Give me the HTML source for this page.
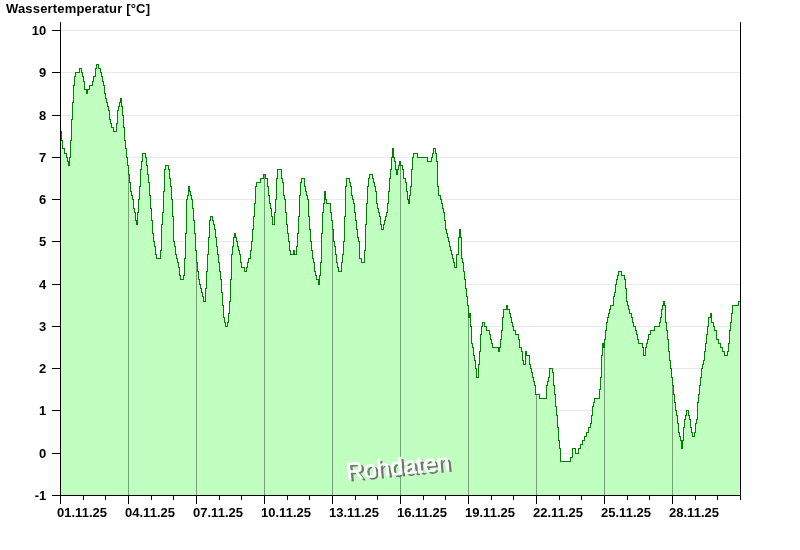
<!DOCTYPE html>
<html lang="de"><head><meta charset="utf-8"><title>Wassertemperatur</title>
<style>html,body{margin:0;padding:0;background:#fff}body{width:800px;height:550px;overflow:hidden;position:relative}</style></head>
<body>
<svg width="800" height="550" viewBox="0 0 800 550" style="display:block">
<rect width="800" height="550" fill="#fff"/>
<g stroke="#e9e9e9" stroke-width="1" shape-rendering="crispEdges">
<line x1="61" x2="740" y1="30.5" y2="30.5"/>
<line x1="61" x2="740" y1="72.5" y2="72.5"/>
<line x1="61" x2="740" y1="115.5" y2="115.5"/>
<line x1="61" x2="740" y1="157.5" y2="157.5"/>
<line x1="61" x2="740" y1="199.5" y2="199.5"/>
<line x1="61" x2="740" y1="241.5" y2="241.5"/>
<line x1="61" x2="740" y1="284.5" y2="284.5"/>
<line x1="61" x2="740" y1="326.5" y2="326.5"/>
<line x1="61" x2="740" y1="368.5" y2="368.5"/>
<line x1="61" x2="740" y1="410.5" y2="410.5"/>
<line x1="61" x2="740" y1="453.5" y2="453.5"/>
</g>
<defs><clipPath id="fc"><path d="M60,495 V131 H61 V140 H62 V148 H63 H64 V153 H65 H66 V157 H67 V161 H68 V165 H69 V157 H70 V140 H71 V119 H72 V102 H73 V85 H74 V76 H75 V72 H76 H77 H78 H79 V68 H80 H81 V72 H82 V76 H83 V81 H84 V89 H85 H86 V93 H87 V89 H88 H89 V85 H90 H91 H92 V81 H93 V76 H94 H95 V68 H96 V64 H97 H98 V68 H99 H100 V72 H101 V76 H102 V81 H103 V85 H104 V93 H105 V98 H106 V102 H107 V106 H108 V110 H109 V119 H110 V123 H111 V127 H112 H113 V131 H114 H115 H116 V123 H117 V110 H118 V106 H119 V102 H120 V98 H121 V106 H122 V115 H123 V127 H124 V140 H125 V148 H126 V157 H127 V165 H128 V174 H129 V182 H130 V191 H131 V195 H132 V199 H133 V208 H134 V212 H135 V220 H136 V224 H137 V212 H138 V199 H139 V186 H140 V169 H141 V161 H142 V153 H143 H144 H145 V157 H146 V165 H147 V174 H148 V182 H149 V195 H150 V208 H151 V220 H152 V233 H153 V241 H154 V246 H155 V254 H156 V258 H157 H158 H159 H160 V250 H161 V224 H162 V212 H163 V191 H164 V169 H165 V165 H166 H167 H168 V169 H169 V178 H170 V186 H171 V199 H172 V216 H173 V241 H174 V246 H175 V254 H176 V258 H177 V262 H178 V267 H179 V275 H180 V279 H181 H182 H183 V275 H184 V258 H185 V233 H186 V199 H187 V195 H188 V186 H189 V191 H190 V195 H191 V199 H192 V208 H193 V220 H194 V233 H195 V250 H196 V262 H197 V271 H198 V279 H199 V284 H200 V288 H201 V292 H202 V296 H203 V301 H204 H205 V288 H206 V271 H207 V254 H208 V237 H209 V220 H210 V216 H211 H212 V220 H213 V224 H214 V229 H215 V237 H216 V246 H217 V254 H218 V262 H219 V271 H220 V279 H221 V292 H222 V305 H223 V317 H224 V322 H225 V326 H226 H227 V322 H228 V313 H229 V301 H230 V279 H231 V254 H232 V246 H233 V237 H234 V233 H235 V237 H236 V241 H237 V246 H238 V250 H239 V254 H240 V262 H241 V267 H242 H243 H244 V271 H245 H246 V267 H247 V262 H248 V258 H249 H250 V250 H251 V241 H252 V229 H253 V216 H254 V203 H255 V186 H256 V182 H257 H258 H259 H260 V178 H261 H262 H263 V174 H264 H265 V178 H266 H267 V186 H268 V195 H269 V203 H270 V208 H271 V216 H272 V224 H273 H274 V212 H275 V199 H276 V178 H277 V169 H278 H279 H280 H281 V178 H282 V182 H283 V195 H284 V199 H285 V212 H286 V224 H287 V233 H288 V241 H289 V250 H290 V254 H291 H292 H293 V250 H294 V254 H295 H296 V246 H297 V233 H298 V216 H299 V195 H300 V182 H301 V178 H302 H303 H304 V186 H305 V191 H306 V195 H307 V199 H308 V216 H309 V229 H310 V241 H311 V250 H312 V258 H313 V262 H314 V271 H315 V275 H316 V279 H317 H318 V284 H319 V275 H320 V262 H321 V233 H322 V212 H323 V203 H324 V191 H325 V199 H326 V203 H327 H328 H329 H330 V212 H331 V220 H332 V229 H333 V241 H334 V246 H335 V254 H336 V262 H337 V267 H338 V271 H339 H340 H341 V262 H342 V254 H343 V241 H344 V216 H345 V186 H346 V178 H347 H348 H349 V182 H350 V186 H351 V195 H352 V199 H353 V203 H354 V212 H355 V220 H356 V229 H357 V237 H358 V241 H359 V258 H360 H361 V262 H362 H363 H364 V250 H365 V224 H366 V203 H367 V186 H368 V178 H369 V174 H370 H371 H372 V178 H373 V182 H374 V186 H375 V191 H376 V203 H377 V208 H378 V212 H379 V216 H380 V224 H381 V229 H382 H383 V224 H384 V220 H385 V216 H386 V212 H387 V203 H388 V191 H389 V178 H390 V169 H391 V157 H392 V148 H393 V157 H394 V161 H395 V169 H396 V174 H397 V169 H398 V165 H399 V161 H400 V165 H401 H402 V169 H403 V178 H404 H405 V182 H406 V191 H407 V199 H408 V203 H409 V195 H410 V186 H411 V169 H412 V157 H413 V153 H414 H415 H416 H417 V157 H418 H419 H420 H421 H422 H423 H424 H425 H426 H427 V161 H428 H429 H430 H431 V157 H432 V153 H433 V148 H434 H435 V153 H436 V161 H437 V186 H438 V195 H439 H440 V199 H441 V203 H442 V208 H443 V212 H444 V220 H445 V229 H446 V233 H447 V237 H448 V241 H449 V246 H450 V250 H451 V254 H452 V258 H453 V262 H454 V267 H455 H456 V254 H457 H458 V237 H459 V229 H460 V237 H461 V258 H462 V262 H463 V271 H464 V279 H465 V288 H466 V296 H467 V305 H468 V317 H469 V313 H470 V326 H471 V343 H472 V347 H473 V355 H474 V360 H475 V368 H476 V377 H477 H478 V364 H479 V351 H480 V334 H481 V326 H482 V322 H483 H484 V326 H485 H486 V330 H487 H488 H489 V334 H490 V339 H491 V343 H492 V347 H493 H494 H495 H496 H497 H498 V351 H499 V347 H500 V339 H501 V330 H502 V317 H503 V309 H504 H505 H506 V305 H507 V309 H508 H509 V313 H510 V317 H511 V322 H512 V326 H513 V330 H514 H515 V334 H516 H517 H518 V339 H519 V347 H520 H521 V351 H522 V360 H523 V364 H524 H525 V351 H526 V355 H527 H528 H529 V364 H530 V368 H531 V372 H532 V377 H533 V381 H534 V385 H535 V394 H536 H537 H538 H539 V398 H540 H541 H542 H543 H544 H545 H546 V385 H547 V381 H548 V377 H549 V368 H550 H551 H552 V372 H553 V385 H554 V394 H555 V406 H556 V415 H557 V427 H558 V440 H559 V448 H560 V461 H561 H562 H563 H564 H565 H566 H567 H568 H569 H570 V457 H571 H572 V448 H573 H574 H575 V453 H576 H577 H578 V448 H579 H580 V444 H581 H582 V440 H583 H584 V436 H585 H586 V432 H587 H588 V427 H589 H590 V423 H591 V415 H592 V406 H593 V402 H594 V398 H595 H596 H597 H598 H599 V389 H600 V377 H601 V355 H602 V343 H603 V347 H604 V339 H605 V330 H606 V322 H607 V317 H608 V313 H609 V309 H610 V305 H611 H612 H613 V296 H614 V292 H615 V284 H616 V279 H617 V275 H618 V271 H619 H620 H621 V275 H622 H623 H624 V279 H625 V288 H626 V301 H627 V305 H628 V309 H629 V313 H630 H631 V317 H632 V322 H633 V326 H634 H635 V330 H636 V334 H637 V339 H638 V343 H639 H640 H641 H642 V347 H643 V355 H644 H645 V347 H646 V343 H647 V339 H648 V334 H649 H650 V330 H651 H652 H653 H654 V326 H655 H656 H657 H658 H659 V322 H660 V317 H661 V309 H662 V305 H663 V301 H664 V305 H665 V322 H666 V330 H667 V339 H668 V351 H669 V360 H670 V368 H671 V377 H672 V385 H673 V394 H674 V402 H675 V410 H676 V415 H677 V423 H678 V432 H679 V436 H680 V440 H681 V448 H682 V440 H683 V427 H684 V419 H685 V415 H686 V410 H687 H688 V415 H689 V419 H690 V427 H691 V432 H692 V436 H693 H694 V432 H695 V423 H696 V419 H697 V402 H698 V394 H699 V385 H700 V377 H701 V368 H702 V364 H703 V360 H704 V351 H705 V343 H706 V334 H707 V326 H708 V317 H709 H710 V313 H711 V322 H712 H713 V326 H714 V330 H715 H716 V339 H717 H718 V343 H719 H720 V347 H721 H722 V351 H723 H724 V355 H725 H726 H727 V351 H728 V343 H729 V330 H730 V322 H731 V313 H732 V305 H733 H734 H735 H736 H737 H738 V301 H739 H740 H740 V495 Z"/></clipPath></defs>
<path d="M60,495 V131 H61 V140 H62 V148 H63 H64 V153 H65 H66 V157 H67 V161 H68 V165 H69 V157 H70 V140 H71 V119 H72 V102 H73 V85 H74 V76 H75 V72 H76 H77 H78 H79 V68 H80 H81 V72 H82 V76 H83 V81 H84 V89 H85 H86 V93 H87 V89 H88 H89 V85 H90 H91 H92 V81 H93 V76 H94 H95 V68 H96 V64 H97 H98 V68 H99 H100 V72 H101 V76 H102 V81 H103 V85 H104 V93 H105 V98 H106 V102 H107 V106 H108 V110 H109 V119 H110 V123 H111 V127 H112 H113 V131 H114 H115 H116 V123 H117 V110 H118 V106 H119 V102 H120 V98 H121 V106 H122 V115 H123 V127 H124 V140 H125 V148 H126 V157 H127 V165 H128 V174 H129 V182 H130 V191 H131 V195 H132 V199 H133 V208 H134 V212 H135 V220 H136 V224 H137 V212 H138 V199 H139 V186 H140 V169 H141 V161 H142 V153 H143 H144 H145 V157 H146 V165 H147 V174 H148 V182 H149 V195 H150 V208 H151 V220 H152 V233 H153 V241 H154 V246 H155 V254 H156 V258 H157 H158 H159 H160 V250 H161 V224 H162 V212 H163 V191 H164 V169 H165 V165 H166 H167 H168 V169 H169 V178 H170 V186 H171 V199 H172 V216 H173 V241 H174 V246 H175 V254 H176 V258 H177 V262 H178 V267 H179 V275 H180 V279 H181 H182 H183 V275 H184 V258 H185 V233 H186 V199 H187 V195 H188 V186 H189 V191 H190 V195 H191 V199 H192 V208 H193 V220 H194 V233 H195 V250 H196 V262 H197 V271 H198 V279 H199 V284 H200 V288 H201 V292 H202 V296 H203 V301 H204 H205 V288 H206 V271 H207 V254 H208 V237 H209 V220 H210 V216 H211 H212 V220 H213 V224 H214 V229 H215 V237 H216 V246 H217 V254 H218 V262 H219 V271 H220 V279 H221 V292 H222 V305 H223 V317 H224 V322 H225 V326 H226 H227 V322 H228 V313 H229 V301 H230 V279 H231 V254 H232 V246 H233 V237 H234 V233 H235 V237 H236 V241 H237 V246 H238 V250 H239 V254 H240 V262 H241 V267 H242 H243 H244 V271 H245 H246 V267 H247 V262 H248 V258 H249 H250 V250 H251 V241 H252 V229 H253 V216 H254 V203 H255 V186 H256 V182 H257 H258 H259 H260 V178 H261 H262 H263 V174 H264 H265 V178 H266 H267 V186 H268 V195 H269 V203 H270 V208 H271 V216 H272 V224 H273 H274 V212 H275 V199 H276 V178 H277 V169 H278 H279 H280 H281 V178 H282 V182 H283 V195 H284 V199 H285 V212 H286 V224 H287 V233 H288 V241 H289 V250 H290 V254 H291 H292 H293 V250 H294 V254 H295 H296 V246 H297 V233 H298 V216 H299 V195 H300 V182 H301 V178 H302 H303 H304 V186 H305 V191 H306 V195 H307 V199 H308 V216 H309 V229 H310 V241 H311 V250 H312 V258 H313 V262 H314 V271 H315 V275 H316 V279 H317 H318 V284 H319 V275 H320 V262 H321 V233 H322 V212 H323 V203 H324 V191 H325 V199 H326 V203 H327 H328 H329 H330 V212 H331 V220 H332 V229 H333 V241 H334 V246 H335 V254 H336 V262 H337 V267 H338 V271 H339 H340 H341 V262 H342 V254 H343 V241 H344 V216 H345 V186 H346 V178 H347 H348 H349 V182 H350 V186 H351 V195 H352 V199 H353 V203 H354 V212 H355 V220 H356 V229 H357 V237 H358 V241 H359 V258 H360 H361 V262 H362 H363 H364 V250 H365 V224 H366 V203 H367 V186 H368 V178 H369 V174 H370 H371 H372 V178 H373 V182 H374 V186 H375 V191 H376 V203 H377 V208 H378 V212 H379 V216 H380 V224 H381 V229 H382 H383 V224 H384 V220 H385 V216 H386 V212 H387 V203 H388 V191 H389 V178 H390 V169 H391 V157 H392 V148 H393 V157 H394 V161 H395 V169 H396 V174 H397 V169 H398 V165 H399 V161 H400 V165 H401 H402 V169 H403 V178 H404 H405 V182 H406 V191 H407 V199 H408 V203 H409 V195 H410 V186 H411 V169 H412 V157 H413 V153 H414 H415 H416 H417 V157 H418 H419 H420 H421 H422 H423 H424 H425 H426 H427 V161 H428 H429 H430 H431 V157 H432 V153 H433 V148 H434 H435 V153 H436 V161 H437 V186 H438 V195 H439 H440 V199 H441 V203 H442 V208 H443 V212 H444 V220 H445 V229 H446 V233 H447 V237 H448 V241 H449 V246 H450 V250 H451 V254 H452 V258 H453 V262 H454 V267 H455 H456 V254 H457 H458 V237 H459 V229 H460 V237 H461 V258 H462 V262 H463 V271 H464 V279 H465 V288 H466 V296 H467 V305 H468 V317 H469 V313 H470 V326 H471 V343 H472 V347 H473 V355 H474 V360 H475 V368 H476 V377 H477 H478 V364 H479 V351 H480 V334 H481 V326 H482 V322 H483 H484 V326 H485 H486 V330 H487 H488 H489 V334 H490 V339 H491 V343 H492 V347 H493 H494 H495 H496 H497 H498 V351 H499 V347 H500 V339 H501 V330 H502 V317 H503 V309 H504 H505 H506 V305 H507 V309 H508 H509 V313 H510 V317 H511 V322 H512 V326 H513 V330 H514 H515 V334 H516 H517 H518 V339 H519 V347 H520 H521 V351 H522 V360 H523 V364 H524 H525 V351 H526 V355 H527 H528 H529 V364 H530 V368 H531 V372 H532 V377 H533 V381 H534 V385 H535 V394 H536 H537 H538 H539 V398 H540 H541 H542 H543 H544 H545 H546 V385 H547 V381 H548 V377 H549 V368 H550 H551 H552 V372 H553 V385 H554 V394 H555 V406 H556 V415 H557 V427 H558 V440 H559 V448 H560 V461 H561 H562 H563 H564 H565 H566 H567 H568 H569 H570 V457 H571 H572 V448 H573 H574 H575 V453 H576 H577 H578 V448 H579 H580 V444 H581 H582 V440 H583 H584 V436 H585 H586 V432 H587 H588 V427 H589 H590 V423 H591 V415 H592 V406 H593 V402 H594 V398 H595 H596 H597 H598 H599 V389 H600 V377 H601 V355 H602 V343 H603 V347 H604 V339 H605 V330 H606 V322 H607 V317 H608 V313 H609 V309 H610 V305 H611 H612 H613 V296 H614 V292 H615 V284 H616 V279 H617 V275 H618 V271 H619 H620 H621 V275 H622 H623 H624 V279 H625 V288 H626 V301 H627 V305 H628 V309 H629 V313 H630 H631 V317 H632 V322 H633 V326 H634 H635 V330 H636 V334 H637 V339 H638 V343 H639 H640 H641 H642 V347 H643 V355 H644 H645 V347 H646 V343 H647 V339 H648 V334 H649 H650 V330 H651 H652 H653 H654 V326 H655 H656 H657 H658 H659 V322 H660 V317 H661 V309 H662 V305 H663 V301 H664 V305 H665 V322 H666 V330 H667 V339 H668 V351 H669 V360 H670 V368 H671 V377 H672 V385 H673 V394 H674 V402 H675 V410 H676 V415 H677 V423 H678 V432 H679 V436 H680 V440 H681 V448 H682 V440 H683 V427 H684 V419 H685 V415 H686 V410 H687 H688 V415 H689 V419 H690 V427 H691 V432 H692 V436 H693 H694 V432 H695 V423 H696 V419 H697 V402 H698 V394 H699 V385 H700 V377 H701 V368 H702 V364 H703 V360 H704 V351 H705 V343 H706 V334 H707 V326 H708 V317 H709 H710 V313 H711 V322 H712 H713 V326 H714 V330 H715 H716 V339 H717 H718 V343 H719 H720 V347 H721 H722 V351 H723 H724 V355 H725 H726 H727 V351 H728 V343 H729 V330 H730 V322 H731 V313 H732 V305 H733 H734 H735 H736 H737 H738 V301 H739 H740 H740 V495 Z" fill="#c0ffc0" shape-rendering="crispEdges"/>
<g stroke="#789f78" stroke-width="1" shape-rendering="crispEdges" clip-path="url(#fc)">
<line x1="128.5" x2="128.5" y1="22" y2="495"/>
<line x1="196.5" x2="196.5" y1="22" y2="495"/>
<line x1="264.5" x2="264.5" y1="22" y2="495"/>
<line x1="332.5" x2="332.5" y1="22" y2="495"/>
<line x1="400.5" x2="400.5" y1="22" y2="495"/>
<line x1="468.5" x2="468.5" y1="22" y2="495"/>
<line x1="536.5" x2="536.5" y1="22" y2="495"/>
<line x1="604.5" x2="604.5" y1="22" y2="495"/>
<line x1="672.5" x2="672.5" y1="22" y2="495"/>
</g>
<path d="M60.5,131.5 H61.5 V140.5 H62.5 V148.5 H63.5 H64.5 V153.5 H65.5 H66.5 V157.5 H67.5 V161.5 H68.5 V165.5 H69.5 V157.5 H70.5 V140.5 H71.5 V119.5 H72.5 V102.5 H73.5 V85.5 H74.5 V76.5 H75.5 V72.5 H76.5 H77.5 H78.5 H79.5 V68.5 H80.5 H81.5 V72.5 H82.5 V76.5 H83.5 V81.5 H84.5 V89.5 H85.5 H86.5 V93.5 H87.5 V89.5 H88.5 H89.5 V85.5 H90.5 H91.5 H92.5 V81.5 H93.5 V76.5 H94.5 H95.5 V68.5 H96.5 V64.5 H97.5 H98.5 V68.5 H99.5 H100.5 V72.5 H101.5 V76.5 H102.5 V81.5 H103.5 V85.5 H104.5 V93.5 H105.5 V98.5 H106.5 V102.5 H107.5 V106.5 H108.5 V110.5 H109.5 V119.5 H110.5 V123.5 H111.5 V127.5 H112.5 H113.5 V131.5 H114.5 H115.5 H116.5 V123.5 H117.5 V110.5 H118.5 V106.5 H119.5 V102.5 H120.5 V98.5 H121.5 V106.5 H122.5 V115.5 H123.5 V127.5 H124.5 V140.5 H125.5 V148.5 H126.5 V157.5 H127.5 V165.5 H128.5 V174.5 H129.5 V182.5 H130.5 V191.5 H131.5 V195.5 H132.5 V199.5 H133.5 V208.5 H134.5 V212.5 H135.5 V220.5 H136.5 V224.5 H137.5 V212.5 H138.5 V199.5 H139.5 V186.5 H140.5 V169.5 H141.5 V161.5 H142.5 V153.5 H143.5 H144.5 H145.5 V157.5 H146.5 V165.5 H147.5 V174.5 H148.5 V182.5 H149.5 V195.5 H150.5 V208.5 H151.5 V220.5 H152.5 V233.5 H153.5 V241.5 H154.5 V246.5 H155.5 V254.5 H156.5 V258.5 H157.5 H158.5 H159.5 H160.5 V250.5 H161.5 V224.5 H162.5 V212.5 H163.5 V191.5 H164.5 V169.5 H165.5 V165.5 H166.5 H167.5 H168.5 V169.5 H169.5 V178.5 H170.5 V186.5 H171.5 V199.5 H172.5 V216.5 H173.5 V241.5 H174.5 V246.5 H175.5 V254.5 H176.5 V258.5 H177.5 V262.5 H178.5 V267.5 H179.5 V275.5 H180.5 V279.5 H181.5 H182.5 H183.5 V275.5 H184.5 V258.5 H185.5 V233.5 H186.5 V199.5 H187.5 V195.5 H188.5 V186.5 H189.5 V191.5 H190.5 V195.5 H191.5 V199.5 H192.5 V208.5 H193.5 V220.5 H194.5 V233.5 H195.5 V250.5 H196.5 V262.5 H197.5 V271.5 H198.5 V279.5 H199.5 V284.5 H200.5 V288.5 H201.5 V292.5 H202.5 V296.5 H203.5 V301.5 H204.5 H205.5 V288.5 H206.5 V271.5 H207.5 V254.5 H208.5 V237.5 H209.5 V220.5 H210.5 V216.5 H211.5 H212.5 V220.5 H213.5 V224.5 H214.5 V229.5 H215.5 V237.5 H216.5 V246.5 H217.5 V254.5 H218.5 V262.5 H219.5 V271.5 H220.5 V279.5 H221.5 V292.5 H222.5 V305.5 H223.5 V317.5 H224.5 V322.5 H225.5 V326.5 H226.5 H227.5 V322.5 H228.5 V313.5 H229.5 V301.5 H230.5 V279.5 H231.5 V254.5 H232.5 V246.5 H233.5 V237.5 H234.5 V233.5 H235.5 V237.5 H236.5 V241.5 H237.5 V246.5 H238.5 V250.5 H239.5 V254.5 H240.5 V262.5 H241.5 V267.5 H242.5 H243.5 H244.5 V271.5 H245.5 H246.5 V267.5 H247.5 V262.5 H248.5 V258.5 H249.5 H250.5 V250.5 H251.5 V241.5 H252.5 V229.5 H253.5 V216.5 H254.5 V203.5 H255.5 V186.5 H256.5 V182.5 H257.5 H258.5 H259.5 H260.5 V178.5 H261.5 H262.5 H263.5 V174.5 H264.5 H265.5 V178.5 H266.5 H267.5 V186.5 H268.5 V195.5 H269.5 V203.5 H270.5 V208.5 H271.5 V216.5 H272.5 V224.5 H273.5 H274.5 V212.5 H275.5 V199.5 H276.5 V178.5 H277.5 V169.5 H278.5 H279.5 H280.5 H281.5 V178.5 H282.5 V182.5 H283.5 V195.5 H284.5 V199.5 H285.5 V212.5 H286.5 V224.5 H287.5 V233.5 H288.5 V241.5 H289.5 V250.5 H290.5 V254.5 H291.5 H292.5 H293.5 V250.5 H294.5 V254.5 H295.5 H296.5 V246.5 H297.5 V233.5 H298.5 V216.5 H299.5 V195.5 H300.5 V182.5 H301.5 V178.5 H302.5 H303.5 H304.5 V186.5 H305.5 V191.5 H306.5 V195.5 H307.5 V199.5 H308.5 V216.5 H309.5 V229.5 H310.5 V241.5 H311.5 V250.5 H312.5 V258.5 H313.5 V262.5 H314.5 V271.5 H315.5 V275.5 H316.5 V279.5 H317.5 H318.5 V284.5 H319.5 V275.5 H320.5 V262.5 H321.5 V233.5 H322.5 V212.5 H323.5 V203.5 H324.5 V191.5 H325.5 V199.5 H326.5 V203.5 H327.5 H328.5 H329.5 H330.5 V212.5 H331.5 V220.5 H332.5 V229.5 H333.5 V241.5 H334.5 V246.5 H335.5 V254.5 H336.5 V262.5 H337.5 V267.5 H338.5 V271.5 H339.5 H340.5 H341.5 V262.5 H342.5 V254.5 H343.5 V241.5 H344.5 V216.5 H345.5 V186.5 H346.5 V178.5 H347.5 H348.5 H349.5 V182.5 H350.5 V186.5 H351.5 V195.5 H352.5 V199.5 H353.5 V203.5 H354.5 V212.5 H355.5 V220.5 H356.5 V229.5 H357.5 V237.5 H358.5 V241.5 H359.5 V258.5 H360.5 H361.5 V262.5 H362.5 H363.5 H364.5 V250.5 H365.5 V224.5 H366.5 V203.5 H367.5 V186.5 H368.5 V178.5 H369.5 V174.5 H370.5 H371.5 H372.5 V178.5 H373.5 V182.5 H374.5 V186.5 H375.5 V191.5 H376.5 V203.5 H377.5 V208.5 H378.5 V212.5 H379.5 V216.5 H380.5 V224.5 H381.5 V229.5 H382.5 H383.5 V224.5 H384.5 V220.5 H385.5 V216.5 H386.5 V212.5 H387.5 V203.5 H388.5 V191.5 H389.5 V178.5 H390.5 V169.5 H391.5 V157.5 H392.5 V148.5 H393.5 V157.5 H394.5 V161.5 H395.5 V169.5 H396.5 V174.5 H397.5 V169.5 H398.5 V165.5 H399.5 V161.5 H400.5 V165.5 H401.5 H402.5 V169.5 H403.5 V178.5 H404.5 H405.5 V182.5 H406.5 V191.5 H407.5 V199.5 H408.5 V203.5 H409.5 V195.5 H410.5 V186.5 H411.5 V169.5 H412.5 V157.5 H413.5 V153.5 H414.5 H415.5 H416.5 H417.5 V157.5 H418.5 H419.5 H420.5 H421.5 H422.5 H423.5 H424.5 H425.5 H426.5 H427.5 V161.5 H428.5 H429.5 H430.5 H431.5 V157.5 H432.5 V153.5 H433.5 V148.5 H434.5 H435.5 V153.5 H436.5 V161.5 H437.5 V186.5 H438.5 V195.5 H439.5 H440.5 V199.5 H441.5 V203.5 H442.5 V208.5 H443.5 V212.5 H444.5 V220.5 H445.5 V229.5 H446.5 V233.5 H447.5 V237.5 H448.5 V241.5 H449.5 V246.5 H450.5 V250.5 H451.5 V254.5 H452.5 V258.5 H453.5 V262.5 H454.5 V267.5 H455.5 H456.5 V254.5 H457.5 H458.5 V237.5 H459.5 V229.5 H460.5 V237.5 H461.5 V258.5 H462.5 V262.5 H463.5 V271.5 H464.5 V279.5 H465.5 V288.5 H466.5 V296.5 H467.5 V305.5 H468.5 V317.5 H469.5 V313.5 H470.5 V326.5 H471.5 V343.5 H472.5 V347.5 H473.5 V355.5 H474.5 V360.5 H475.5 V368.5 H476.5 V377.5 H477.5 H478.5 V364.5 H479.5 V351.5 H480.5 V334.5 H481.5 V326.5 H482.5 V322.5 H483.5 H484.5 V326.5 H485.5 H486.5 V330.5 H487.5 H488.5 H489.5 V334.5 H490.5 V339.5 H491.5 V343.5 H492.5 V347.5 H493.5 H494.5 H495.5 H496.5 H497.5 H498.5 V351.5 H499.5 V347.5 H500.5 V339.5 H501.5 V330.5 H502.5 V317.5 H503.5 V309.5 H504.5 H505.5 H506.5 V305.5 H507.5 V309.5 H508.5 H509.5 V313.5 H510.5 V317.5 H511.5 V322.5 H512.5 V326.5 H513.5 V330.5 H514.5 H515.5 V334.5 H516.5 H517.5 H518.5 V339.5 H519.5 V347.5 H520.5 H521.5 V351.5 H522.5 V360.5 H523.5 V364.5 H524.5 H525.5 V351.5 H526.5 V355.5 H527.5 H528.5 H529.5 V364.5 H530.5 V368.5 H531.5 V372.5 H532.5 V377.5 H533.5 V381.5 H534.5 V385.5 H535.5 V394.5 H536.5 H537.5 H538.5 H539.5 V398.5 H540.5 H541.5 H542.5 H543.5 H544.5 H545.5 H546.5 V385.5 H547.5 V381.5 H548.5 V377.5 H549.5 V368.5 H550.5 H551.5 H552.5 V372.5 H553.5 V385.5 H554.5 V394.5 H555.5 V406.5 H556.5 V415.5 H557.5 V427.5 H558.5 V440.5 H559.5 V448.5 H560.5 V461.5 H561.5 H562.5 H563.5 H564.5 H565.5 H566.5 H567.5 H568.5 H569.5 H570.5 V457.5 H571.5 H572.5 V448.5 H573.5 H574.5 H575.5 V453.5 H576.5 H577.5 H578.5 V448.5 H579.5 H580.5 V444.5 H581.5 H582.5 V440.5 H583.5 H584.5 V436.5 H585.5 H586.5 V432.5 H587.5 H588.5 V427.5 H589.5 H590.5 V423.5 H591.5 V415.5 H592.5 V406.5 H593.5 V402.5 H594.5 V398.5 H595.5 H596.5 H597.5 H598.5 H599.5 V389.5 H600.5 V377.5 H601.5 V355.5 H602.5 V343.5 H603.5 V347.5 H604.5 V339.5 H605.5 V330.5 H606.5 V322.5 H607.5 V317.5 H608.5 V313.5 H609.5 V309.5 H610.5 V305.5 H611.5 H612.5 H613.5 V296.5 H614.5 V292.5 H615.5 V284.5 H616.5 V279.5 H617.5 V275.5 H618.5 V271.5 H619.5 H620.5 H621.5 V275.5 H622.5 H623.5 H624.5 V279.5 H625.5 V288.5 H626.5 V301.5 H627.5 V305.5 H628.5 V309.5 H629.5 V313.5 H630.5 H631.5 V317.5 H632.5 V322.5 H633.5 V326.5 H634.5 H635.5 V330.5 H636.5 V334.5 H637.5 V339.5 H638.5 V343.5 H639.5 H640.5 H641.5 H642.5 V347.5 H643.5 V355.5 H644.5 H645.5 V347.5 H646.5 V343.5 H647.5 V339.5 H648.5 V334.5 H649.5 H650.5 V330.5 H651.5 H652.5 H653.5 H654.5 V326.5 H655.5 H656.5 H657.5 H658.5 H659.5 V322.5 H660.5 V317.5 H661.5 V309.5 H662.5 V305.5 H663.5 V301.5 H664.5 V305.5 H665.5 V322.5 H666.5 V330.5 H667.5 V339.5 H668.5 V351.5 H669.5 V360.5 H670.5 V368.5 H671.5 V377.5 H672.5 V385.5 H673.5 V394.5 H674.5 V402.5 H675.5 V410.5 H676.5 V415.5 H677.5 V423.5 H678.5 V432.5 H679.5 V436.5 H680.5 V440.5 H681.5 V448.5 H682.5 V440.5 H683.5 V427.5 H684.5 V419.5 H685.5 V415.5 H686.5 V410.5 H687.5 H688.5 V415.5 H689.5 V419.5 H690.5 V427.5 H691.5 V432.5 H692.5 V436.5 H693.5 H694.5 V432.5 H695.5 V423.5 H696.5 V419.5 H697.5 V402.5 H698.5 V394.5 H699.5 V385.5 H700.5 V377.5 H701.5 V368.5 H702.5 V364.5 H703.5 V360.5 H704.5 V351.5 H705.5 V343.5 H706.5 V334.5 H707.5 V326.5 H708.5 V317.5 H709.5 H710.5 V313.5 H711.5 V322.5 H712.5 H713.5 V326.5 H714.5 V330.5 H715.5 H716.5 V339.5 H717.5 H718.5 V343.5 H719.5 H720.5 V347.5 H721.5 H722.5 V351.5 H723.5 H724.5 V355.5 H725.5 H726.5 H727.5 V351.5 H728.5 V343.5 H729.5 V330.5 H730.5 V322.5 H731.5 V313.5 H732.5 V305.5 H733.5 H734.5 H735.5 H736.5 H737.5 H738.5 V301.5 H739.5 H740.5" fill="none" stroke="#008000" stroke-width="1" shape-rendering="crispEdges"/>
<g stroke="#000" stroke-width="1" shape-rendering="crispEdges">
<line x1="60.5" x2="60.5" y1="22" y2="496"/>
<line x1="740.5" x2="740.5" y1="22" y2="496"/>
<line x1="52" x2="741" y1="495.5" y2="495.5"/>
<line x1="52" x2="60" y1="30.5" y2="30.5"/>
<line x1="52" x2="60" y1="72.5" y2="72.5"/>
<line x1="52" x2="60" y1="115.5" y2="115.5"/>
<line x1="52" x2="60" y1="157.5" y2="157.5"/>
<line x1="52" x2="60" y1="199.5" y2="199.5"/>
<line x1="52" x2="60" y1="241.5" y2="241.5"/>
<line x1="52" x2="60" y1="284.5" y2="284.5"/>
<line x1="52" x2="60" y1="326.5" y2="326.5"/>
<line x1="52" x2="60" y1="368.5" y2="368.5"/>
<line x1="52" x2="60" y1="410.5" y2="410.5"/>
<line x1="52" x2="60" y1="453.5" y2="453.5"/>
<line x1="60.5" x2="60.5" y1="496" y2="504"/>
<line x1="83.5" x2="83.5" y1="496" y2="500"/>
<line x1="105.5" x2="105.5" y1="496" y2="500"/>
<line x1="128.5" x2="128.5" y1="496" y2="504"/>
<line x1="151.5" x2="151.5" y1="496" y2="500"/>
<line x1="173.5" x2="173.5" y1="496" y2="500"/>
<line x1="196.5" x2="196.5" y1="496" y2="504"/>
<line x1="219.5" x2="219.5" y1="496" y2="500"/>
<line x1="241.5" x2="241.5" y1="496" y2="500"/>
<line x1="264.5" x2="264.5" y1="496" y2="504"/>
<line x1="287.5" x2="287.5" y1="496" y2="500"/>
<line x1="309.5" x2="309.5" y1="496" y2="500"/>
<line x1="332.5" x2="332.5" y1="496" y2="504"/>
<line x1="355.5" x2="355.5" y1="496" y2="500"/>
<line x1="377.5" x2="377.5" y1="496" y2="500"/>
<line x1="400.5" x2="400.5" y1="496" y2="504"/>
<line x1="423.5" x2="423.5" y1="496" y2="500"/>
<line x1="445.5" x2="445.5" y1="496" y2="500"/>
<line x1="468.5" x2="468.5" y1="496" y2="504"/>
<line x1="491.5" x2="491.5" y1="496" y2="500"/>
<line x1="513.5" x2="513.5" y1="496" y2="500"/>
<line x1="536.5" x2="536.5" y1="496" y2="504"/>
<line x1="559.5" x2="559.5" y1="496" y2="500"/>
<line x1="581.5" x2="581.5" y1="496" y2="500"/>
<line x1="604.5" x2="604.5" y1="496" y2="504"/>
<line x1="627.5" x2="627.5" y1="496" y2="500"/>
<line x1="649.5" x2="649.5" y1="496" y2="500"/>
<line x1="672.5" x2="672.5" y1="496" y2="504"/>
<line x1="695.5" x2="695.5" y1="496" y2="500"/>
<line x1="717.5" x2="717.5" y1="496" y2="500"/>
<line x1="740.5" x2="740.5" y1="496" y2="500"/>
</g>
</svg>
<svg width="800" height="550" viewBox="0 0 800 550" style="position:absolute;left:0;top:0;will-change:transform">
<g font-family="'Liberation Sans', Arial, sans-serif" font-weight="bold" font-size="13px" fill="#000">
<text x="6" y="13" textLength="144" lengthAdjust="spacing">Wassertemperatur [°C]</text>
<text x="46.3" y="35.2" text-anchor="end">10</text>
<text x="46.3" y="77.2" text-anchor="end">9</text>
<text x="46.3" y="120.2" text-anchor="end">8</text>
<text x="46.3" y="162.2" text-anchor="end">7</text>
<text x="46.3" y="204.2" text-anchor="end">6</text>
<text x="46.3" y="246.2" text-anchor="end">5</text>
<text x="46.3" y="289.2" text-anchor="end">4</text>
<text x="46.3" y="331.2" text-anchor="end">3</text>
<text x="46.3" y="373.2" text-anchor="end">2</text>
<text x="46.3" y="415.2" text-anchor="end">1</text>
<text x="46.3" y="458.2" text-anchor="end">0</text>
<text x="46.3" y="500.2" text-anchor="end">-1</text>
<text x="57" y="517.2" textLength="50" lengthAdjust="spacing">01.11.25</text>
<text x="125" y="517.2" textLength="50" lengthAdjust="spacing">04.11.25</text>
<text x="193" y="517.2" textLength="50" lengthAdjust="spacing">07.11.25</text>
<text x="261" y="517.2" textLength="50" lengthAdjust="spacing">10.11.25</text>
<text x="329" y="517.2" textLength="50" lengthAdjust="spacing">13.11.25</text>
<text x="397" y="517.2" textLength="50" lengthAdjust="spacing">16.11.25</text>
<text x="465" y="517.2" textLength="50" lengthAdjust="spacing">19.11.25</text>
<text x="533" y="517.2" textLength="50" lengthAdjust="spacing">22.11.25</text>
<text x="601" y="517.2" textLength="50" lengthAdjust="spacing">25.11.25</text>
<text x="669" y="517.2" textLength="50" lengthAdjust="spacing">28.11.25</text>
</g>
<g font-family="'Liberation Sans', Arial, sans-serif" font-size="24px" transform="rotate(-5.5 400 470)">
<text x="348.8" y="476.8" fill="#747474">Rohdaten</text>
<text x="346" y="474.5" fill="#fff" stroke="#fff" stroke-width="0.5">Rohdaten</text>
</g>
</svg>
</body></html>
